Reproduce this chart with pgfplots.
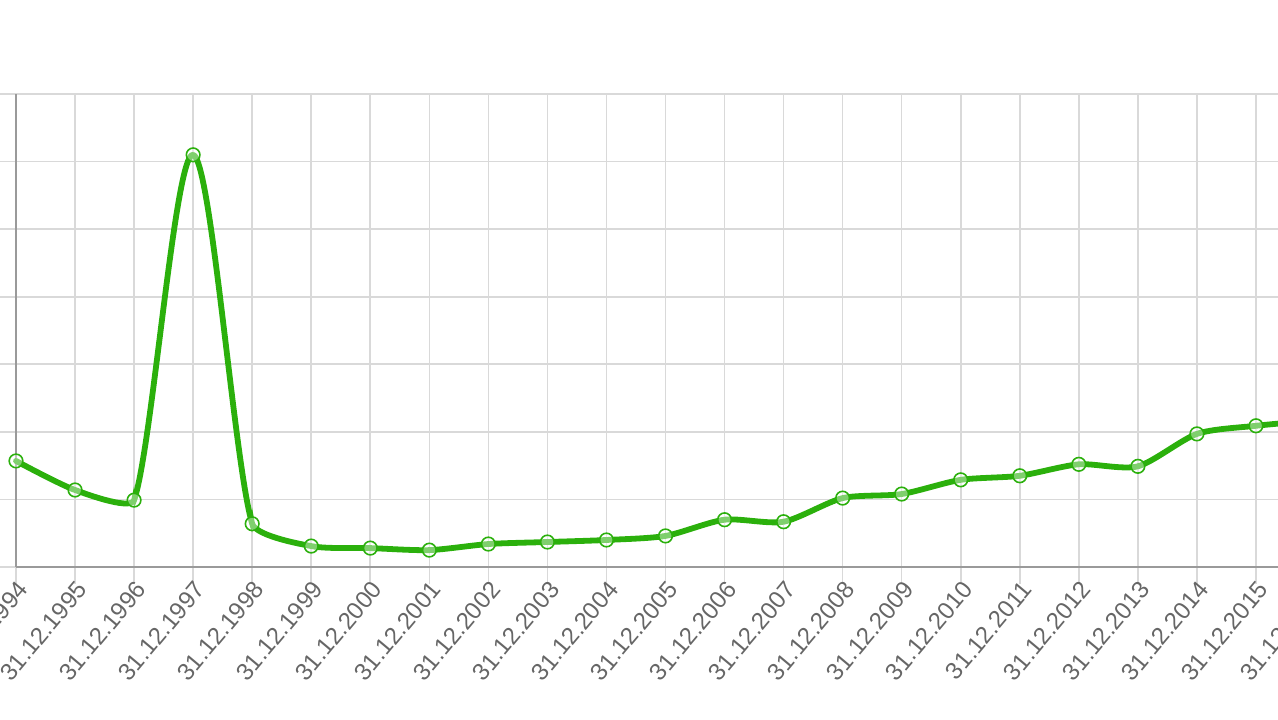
\documentclass[border=0pt]{standalone}
\usepackage{pgfplots}
\pgfplotsset{compat=1.18}
\usepackage{fontspec}
\setmainfont{Liberation Sans}
\definecolor{lineGreen}{HTML}{2BB00C}
\definecolor{gridGrey}{HTML}{D9D9D9}
\definecolor{axisGrey}{HTML}{9A9A9A}
\definecolor{labelGrey}{HTML}{666666}

% all values, index 0 = 31.12.1994
\pgfplotstableread{
x y
0 1.57
1 1.14
2 0.99
3 6.10
4 0.64
5 0.31
6 0.28
7 0.25
8 0.34
9 0.37
10 0.40
11 0.46
12 0.70
13 0.67
14 1.02
15 1.08
16 1.29
17 1.35
18 1.52
19 1.49
20 1.97
21 2.09
22 2.17
}\allpts

\pgfplotsset{
    trend/.style={lineGreen, line width=2.9pt, smooth, line cap=round, line join=round},
}

\begin{document}
\begin{tikzpicture}
    \useasboundingbox (-8pt,-76pt) rectangle (631pt,283.5pt);
    \clip (-8pt,-76pt) rectangle (631pt,283.5pt);
    \begin{axis}[
        at={(0,0)}, anchor=south west,
        scale only axis,
        width=649.5pt, height=236.5pt,
        xmin=0, xmax=22, ymin=0, ymax=7,
        axis lines=left,
        axis line style={-, draw=axisGrey, line width=0.7pt},
        grid=major,
        major grid style={draw=gridGrey, line width=0.8pt},
        tick align=outside,
        major tick length=8.5pt,
        tick style={draw=gridGrey, line width=0.8pt},
        xtick={0,...,22},
        ytick={0,...,7},
        yticklabels={},
        xticklabels={31.12.1994,31.12.1995,31.12.1996,31.12.1997,31.12.1998,31.12.1999,
            31.12.2000,31.12.2001,31.12.2002,31.12.2003,31.12.2004,31.12.2005,
            31.12.2006,31.12.2007,31.12.2008,31.12.2009,31.12.2010,31.12.2011,
            31.12.2012,31.12.2013,31.12.2014,31.12.2015,31.12.2016},
        xticklabel style={rotate=50, anchor=east, font=\fontsize{12}{14}\selectfont,
            text=labelGrey, inner sep=1pt, xshift=3pt, yshift=-3pt},
        clip=false,
    ]
        % the line is drawn piecewise (each piece clipped to its x range)
        % so the tension can differ around the 1997 spike
        \begin{scope}
            \clip (axis cs:-0.5,-1) rectangle (axis cs:1,8);
            \addplot[trend, tension=0.4] table[restrict x to domain=0:2] {\allpts};
        \end{scope}
        \begin{scope}
            \clip (axis cs:1,-1) rectangle (axis cs:2,8);
            \addplot[trend, tension=0.12] table[restrict x to domain=0:3] {\allpts};
        \end{scope}
        \begin{scope}
            \clip (axis cs:2,-1) rectangle (axis cs:4,8);
            \addplot[trend, tension=0.55] table[restrict x to domain=1:5] {\allpts};
        \end{scope}
        \begin{scope}
            \clip (axis cs:4,-1) rectangle (axis cs:5,8);
            \addplot[trend, tension=0.12] table[restrict x to domain=3:6] {\allpts};
        \end{scope}
        \begin{scope}
            \clip (axis cs:5,-1) rectangle (axis cs:23,8);
            \addplot[trend, tension=0.45] table[restrict x to domain=4:22] {\allpts};
        \end{scope}
        % points
        \addplot[only marks, mark=*, mark size=3.4pt,
            mark options={draw=lineGreen, fill=white, fill opacity=0.4, line width=0.8pt}] table {\allpts};
    \end{axis}
\end{tikzpicture}
\end{document}
